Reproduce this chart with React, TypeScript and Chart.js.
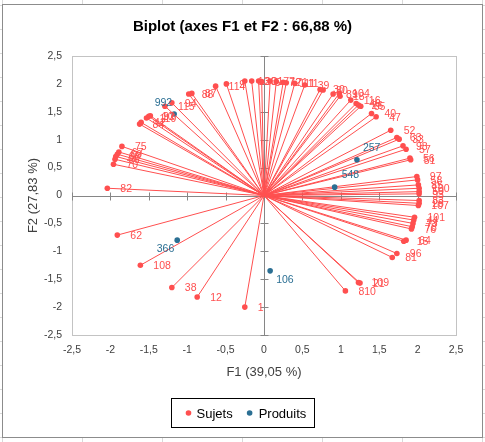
import React, { useEffect, useRef } from 'react';
import { Chart, registerables } from 'chart.js';

Chart.register(...registerables);

const TITLE = 'Biplot (axes F1 et F2 : 66,88 %)';
const X_TITLE = 'F1 (39,05 %)';
const Y_TITLE = 'F2 (27,83 %)';
const AXIS_TICKS = [-2.5, -2, -1.5, -1, -0.5, 0, 0.5, 1, 1.5, 2, 2.5];

const SUJET_LABELS = [
  '82', '70', '66', '68', '69', '67', '75', '84', '42', '119', '10', '92',
  '115', '94', '88', '87', '114', '9', '13', '20', '31', '5', '77', '72',
  '71', '111', '11', '39', '30', '80', '89', '104', '18', '116', '46', '26',
  '65', '40', '47', '52', '63', '33', '98', '57', '56', '51', '97', '58',
  '85', '100', '50', '93', '83', '28', '107', '101', '44', '73', '78', '76',
  '64', '15', '96', '81', '21', '109', '810', '1', '12', '38', '108', '62',
];
const SUJET_F1 = [
  -2.04, -1.96, -1.94, -1.93, -1.91, -1.89, -1.85, -1.62, -1.6, -1.53, -1.5, -1.48,
  -1.29, -1.2, -0.98, -0.94, -0.63, -0.49, -0.25, -0.16, -0.07, -0.03, 0.08, 0.16,
  0.25, 0.29, 0.4, 0.53, 0.73, 0.77, 0.9, 0.98, 0.99, 1.13, 1.2, 1.23,
  1.26, 1.4, 1.46, 1.65, 1.73, 1.76, 1.81, 1.85, 1.9, 1.91, 1.99, 2.0,
  2.01, 2.02, 2.02, 2.02, 2.02, 2.02, 2.01, 1.96, 1.95, 1.94, 1.93, 1.92,
  1.85, 1.82, 1.73, 1.67, 1.25, 1.23, 1.06, -0.25, -0.87, -1.2, -1.61, -1.91,
];
const SUJET_F2 = [
  0.13, 0.56, 0.65, 0.7, 0.74, 0.78, 0.88, 1.28, 1.31, 1.39, 1.42, 1.43,
  1.6, 1.66, 1.82, 1.83, 1.96, 2.0, 2.05, 2.05, 2.05, 2.04, 2.05, 2.04,
  2.03, 2.02, 2.01, 1.98, 1.9, 1.89, 1.82, 1.83, 1.78, 1.71, 1.65, 1.62,
  1.6, 1.47, 1.41, 1.17, 1.04, 1.01, 0.89, 0.83, 0.67, 0.64, 0.34, 0.28,
  0.19, 0.13, 0.07, 0.03, -0.09, -0.14, -0.18, -0.39, -0.44, -0.5, -0.56, -0.6,
  -0.8, -0.82, -1.04, -1.11, -1.57, -1.56, -1.71, -2.0, -1.82, -1.65, -1.25, -0.71,
];

const PRODUIT_LABELS = ['992', '257', '548', '366', '106'];
const PRODUIT_F1 = [-1.17, 1.21, 0.92, -1.13, 0.08];
const PRODUIT_F2 = [1.46, 0.64, 0.15, -0.8, -1.35];

// label placement style for product labels
const PRODUIT_LABEL_STYLE: Record<string, { dx: number; dy: number; align: CanvasTextAlign }> = {
  '992': { dx: -2, dy: -11, align: 'right' },
  '257': { dx: 6, dy: -12, align: 'left' },
  '548': { dx: 7, dy: -12, align: 'left' },
  '366': { dx: -3, dy: 9, align: 'right' },
  '106': { dx: 6, dy: 9, align: 'left' },
};

const RED = '#ff4f4f';
const BLUE = '#2b6f93';
const FONT = '"Liberation Sans", Arial, sans-serif';

const fmt = (v: number) => String(v).replace('.', ',');

const decorPlugin = {
  id: 'biplotDecor',
  beforeDatasetsDraw(chart: any) {
    const { ctx, chartArea, scales } = chart;
    const xs = scales.x;
    const ys = scales.y;
    ctx.save();
    // plot border
    ctx.strokeStyle = '#c3c3c3';
    ctx.lineWidth = 1;
    ctx.strokeRect(
      Math.round(chartArea.left) + 0.5,
      Math.round(chartArea.top) + 0.5,
      Math.round(chartArea.right - chartArea.left),
      Math.round(chartArea.bottom - chartArea.top)
    );
    // zero axes
    const x0 = Math.round(xs.getPixelForValue(0)) + 0.5;
    const y0 = Math.round(ys.getPixelForValue(0)) + 0.5;
    ctx.strokeStyle = '#868686';
    ctx.beginPath();
    ctx.moveTo(chartArea.left, y0);
    ctx.lineTo(chartArea.right, y0);
    ctx.moveTo(x0, chartArea.top);
    ctx.lineTo(x0, chartArea.bottom);
    AXIS_TICKS.forEach((v) => {
      const px = Math.round(xs.getPixelForValue(v)) + 0.5;
      ctx.moveTo(px, y0 - 4);
      ctx.lineTo(px, y0 + 4);
      const py = Math.round(ys.getPixelForValue(v)) + 0.5;
      ctx.moveTo(x0 - 4, py);
      ctx.lineTo(x0 + 4, py);
    });
    ctx.stroke();
    // vectors from origin to each subject
    const ox = xs.getPixelForValue(0);
    const oy = ys.getPixelForValue(0);
    ctx.strokeStyle = RED;
    ctx.lineWidth = 1;
    ctx.beginPath();
    const meta = chart.getDatasetMeta(0);
    meta.data.forEach((pt: any) => {
      ctx.moveTo(ox, oy);
      ctx.lineTo(pt.x, pt.y);
    });
    ctx.stroke();
    ctx.restore();
  },
  afterDatasetsDraw(chart: any) {
    const { ctx } = chart;
    ctx.save();
    ctx.font = `10.5px ${FONT}`;
    ctx.textBaseline = 'middle';
    ctx.fillStyle = RED;
    ctx.textAlign = 'left';
    chart.getDatasetMeta(0).data.forEach((pt: any, i: number) => {
      ctx.fillText(SUJET_LABELS[i], pt.x + 13, pt.y + 1);
    });
    ctx.fillStyle = BLUE;
    chart.getDatasetMeta(1).data.forEach((pt: any, i: number) => {
      const lab = PRODUIT_LABELS[i];
      const st = PRODUIT_LABEL_STYLE[lab] || { dx: 8, dy: 0, align: 'left' };
      ctx.textAlign = st.align;
      ctx.fillText(lab, pt.x + st.dx, pt.y + st.dy);
    });
    ctx.restore();
  },
  afterDraw(chart: any) {
    const { ctx, chartArea, width } = chart;
    ctx.save();
    // title
    ctx.fillStyle = '#000';
    ctx.font = `bold 15px ${FONT}`;
    ctx.textAlign = 'center';
    ctx.textBaseline = 'middle';
    ctx.fillText(TITLE, width / 2, 22);
    // axis titles
    ctx.fillStyle = '#404040';
    ctx.font = `13px ${FONT}`;
    ctx.fillText(X_TITLE, (chartArea.left + chartArea.right) / 2, 367);
    ctx.save();
    ctx.translate(30, (chartArea.top + chartArea.bottom) / 2);
    ctx.rotate(-Math.PI / 2);
    ctx.fillText(Y_TITLE, 0, 0);
    ctx.restore();
    // legend
    const items = [
      { label: 'Sujets', color: RED },
      { label: 'Produits', color: BLUE },
    ];
    ctx.font = `13px ${FONT}`;
    const w0 = ctx.measureText(items[0].label).width;
    const w1 = ctx.measureText(items[1].label).width;
    const boxW = 17 + 8 + w0 + 17 + 9 + w1 + 8;
    const boxL = Math.round(width / 2 - boxW / 2) + 0.5;
    const boxT = 393.5;
    const boxH = 29;
    ctx.strokeStyle = '#000';
    ctx.lineWidth = 1;
    ctx.strokeRect(boxL, boxT, Math.round(boxW), boxH);
    const cy = boxT + boxH / 2;
    let cx = boxL + 17;
    ctx.textAlign = 'left';
    ctx.textBaseline = 'middle';
    items.forEach((it, i) => {
      ctx.fillStyle = it.color;
      ctx.beginPath();
      ctx.arc(cx, cy, 2.8, 0, Math.PI * 2);
      ctx.fill();
      ctx.fillStyle = '#000';
      ctx.fillText(it.label, cx + (i === 0 ? 8 : 9), cy + 1);
      cx += (i === 0 ? 8 : 9) + (i === 0 ? w0 : w1) + 17;
    });
    ctx.restore();
  },
};

export default function App() {
  const canvasRef = useRef<HTMLCanvasElement | null>(null);

  useEffect(() => {
    if (!canvasRef.current) return;
    const sujets = SUJET_F1.map((x, i) => ({ x, y: SUJET_F2[i] }));
    const produits = PRODUIT_F1.map((x, i) => ({ x, y: PRODUIT_F2[i] }));
    const tickFont = { family: FONT, size: 10.5 };
    const chart = new Chart(canvasRef.current, {
      type: 'scatter',
      data: {
        datasets: [
          {
            label: 'Sujets',
            data: sujets,
            backgroundColor: RED,
            borderColor: RED,
            pointRadius: 2.8,
            pointBorderWidth: 0,
          },
          {
            label: 'Produits',
            data: produits,
            backgroundColor: BLUE,
            borderColor: BLUE,
            pointRadius: 2.8,
            pointBorderWidth: 0,
          },
        ],
      },
      options: {
        responsive: false,
        maintainAspectRatio: false,
        animation: false,
        devicePixelRatio: 1,
        layout: { padding: { top: 51, right: 26, bottom: 0, left: 0 } },
        plugins: {
          legend: { display: false },
          title: { display: false },
          tooltip: { enabled: false },
        },
        scales: {
          x: {
            type: 'linear',
            position: 'bottom',
            min: -2.5,
            max: 2.5,
            grid: { display: false, drawTicks: false },
            border: { display: false },
            afterBuildTicks: (scale: any) => {
              scale.ticks = AXIS_TICKS.map((value) => ({ value }));
            },
            afterFit: (scale: any) => {
              scale.height = 102;
            },
            ticks: {
              font: tickFont,
              color: '#404040',
              padding: 9,
              maxRotation: 0,
              autoSkip: false,
              callback: (v: any) => fmt(Number(v)),
            },
          },
          y: {
            type: 'linear',
            position: 'left',
            min: -2.5,
            max: 2.5,
            grid: { display: false, drawTicks: false },
            border: { display: false },
            afterBuildTicks: (scale: any) => {
              scale.ticks = AXIS_TICKS.map((value) => ({ value }));
            },
            afterFit: (scale: any) => {
              scale.width = 69;
            },
            ticks: {
              font: tickFont,
              color: '#404040',
              padding: 10,
              autoSkip: false,
              callback: (v: any) => fmt(Number(v)),
            },
          },
        },
      },
      plugins: [decorPlugin],
    } as any);
    return () => chart.destroy();
  }, []);

  return (
    <div
      style={{
        position: 'fixed',
        left: 0,
        top: 0,
        width: 485,
        height: 442,
        backgroundColor: '#fff',
        backgroundImage:
          'linear-gradient(to right, #d9d9d9 1px, transparent 1px), linear-gradient(to bottom, #d9d9d9 1px, transparent 1px)',
        backgroundSize: '80px 24px',
        backgroundPosition: '2px 5px',
      }}
    >
      <div
        style={{
          position: 'absolute',
          left: 2,
          top: 4,
          width: 479,
          height: 432,
          border: '1px solid #8c8c8c',
          background: '#fff',
        }}
      >
        <canvas ref={canvasRef} width={479} height={432} style={{ display: 'block' }} />
      </div>
    </div>
  );
}
